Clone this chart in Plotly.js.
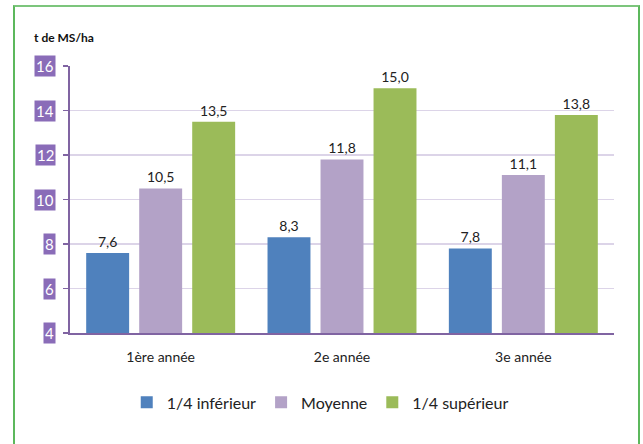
<!DOCTYPE html>
<html><head><meta charset="utf-8">
<script src="https://cdn.plot.ly/plotly-3.0.1.min.js"></script>
<style>
html,body{margin:0;padding:0;background:#fff;}
#wrap{position:relative;width:643px;height:444px;overflow:hidden;}
#chart{width:643px;height:444px;}
#frame{position:absolute;left:13px;top:5px;width:623px;height:460px;border:2px solid #5cb85c;border-top-color:#7cc57c;pointer-events:none;}
</style></head>
<body><div id="wrap"><div id="chart"></div><div id="frame"></div></div>
<script>
const categories = ['1ère année', '2e année', '3e année'];
const inferieur = [7.6, 8.3, 7.8];
const moyenne = [10.5, 11.8, 11.1];
const superieur = [13.5, 15.0, 13.8];
const seriesNames = ['1/4 inférieur', 'Moyenne', '1/4 supérieur'];
const yTicks = [4, 6, 8, 10, 12, 14, 16];

const colors = ['#4f81bd', '#b3a2c7', '#9bbb59'];
const font = 'Lato, "Noto Sans", sans-serif';
const traces = [inferieur, moyenne, superieur].map((v, i) => ({
  type: 'bar', x: categories, y: v, name: seriesNames[i],
  marker: {color: colors[i]},
  text: v.map(d => d.toFixed(1).replace('.', ',')),
  textposition: 'outside', cliponaxis: false,
  textfont: {size: 14, color: '#222', family: font},
  hoverinfo: 'skip'
}));

const annotations = yTicks.map(t => ({
  xref: 'paper', yref: 'y', x: 0, y: t, xanchor: 'right', yanchor: 'middle',
  xshift: -14, text: String(t), showarrow: false,
  font: {size: 15, color: '#fff', family: font},
  bgcolor: '#8a6cb8', borderpad: 1
}));
annotations.push({
  xref: 'paper', yref: 'paper', x: 0, y: 1, xshift: -38, yshift: 29,
  xanchor: 'left', yanchor: 'middle', showarrow: false,
  text: '<b>t de MS/ha</b>', font: {size: 12, color: '#111', family: font}
});

Plotly.newPlot('chart', traces, {
  width: 643, height: 444,
  margin: {l: 70, r: 29, t: 66, b: 111},
  paper_bgcolor: '#fff', plot_bgcolor: '#fff',
  bargap: 0.123, bargroupgap: 0.19,
  showlegend: true,
  legend: {orientation: 'h', x: 0.46, xanchor: 'center', y: -0.26, yanchor: 'middle',
           font: {size: 16, color: '#222', family: font}, itemwidth: 30, traceorder: 'normal'},
  xaxis: {showline: true, linecolor: '#8064a2', linewidth: 2, ticks: '',
          ticklabelstandoff: 10,
          tickfont: {size: 14, color: '#222', family: font}, fixedrange: true},
  yaxis: {range: [4, 16], tickvals: yTicks, showticklabels: false,
          showline: true, linecolor: '#8064a2', linewidth: 2,
          ticks: 'outside', ticklen: 5, tickcolor: '#8064a2', tickwidth: 1.5,
          gridcolor: '#dcd4e8', gridwidth: 1.5, zeroline: false, fixedrange: true},
  annotations: annotations,
  font: {family: font}
}, {staticPlot: true});
</script></body></html>
